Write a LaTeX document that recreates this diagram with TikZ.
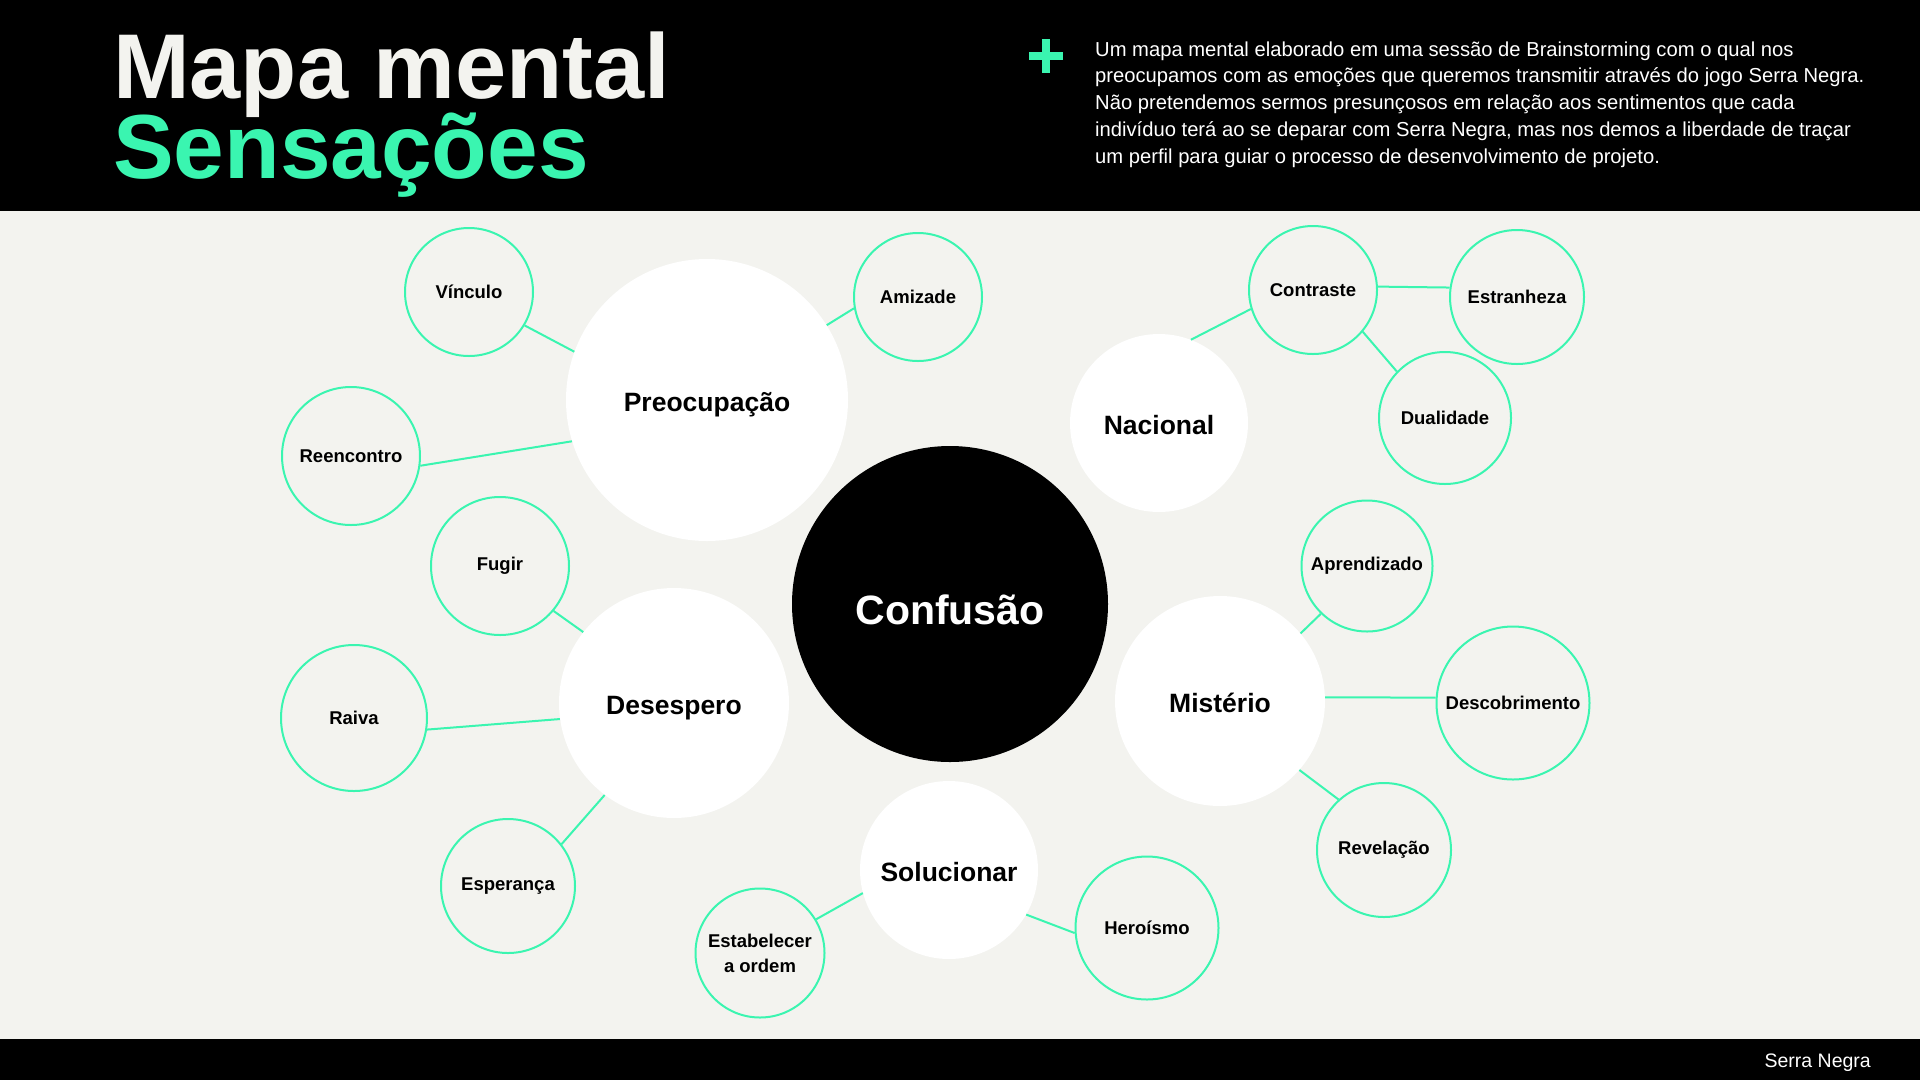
\documentclass[tikz,border=0pt]{standalone}
\usepackage{fontspec}
\setmainfont{Liberation Sans}
\definecolor{mint}{RGB}{58,245,176}
\definecolor{paper}{RGB}{243,243,239}

\begin{document}
\begin{tikzpicture}[x=1pt,y=-1pt,
        main/.style={circle,fill=white,inner sep=0pt,text height=22pt,text depth=0pt,font=\bfseries\fontsize{26.5}{30}\selectfont},
        leaf/.style={circle,draw=mint,line width=2pt,inner sep=0pt,align=center,font=\bfseries\fontsize{18.5}{25}\selectfont},
        link/.style={draw=mint,line width=2pt}]
        \useasboundingbox (0,0) rectangle (1920,1080);
        \fill[paper] (0,0) rectangle (1920,1080);
        \fill[black] (0,0) rectangle (1920,211);
        \fill[black] (0,1039) rectangle (1920,1080);
        \node[anchor=base west,inner sep=0pt,text=paper,font=\bfseries\fontsize{92}{92}\selectfont] (title) at (113,98) {Mapa mental};
        \node[anchor=base west,inner sep=0pt,text=mint,font=\bfseries\fontsize{91}{91}\selectfont] (subtitle) at (113,178) {Sensações};
        \draw[mint,line width=8pt] (1029,56) -- (1063,56) (1046,39) -- (1046,73);
        \node[anchor=base west,inner sep=0pt,align=left,text=white,font=\fontsize{20.2}{26.9}\selectfont] (intro) at (1095,163.6) {Um mapa mental elaborado em uma sessão de Brainstorming com o qual nos\\preocupamos com as emoções que queremos transmitir através do jogo Serra Negra.\\Não pretendemos sermos presunçosos em relação aos sentimentos que cada\\indivíduo terá ao se deparar com Serra Negra, mas nos demos a liberdade de traçar\\um perfil para guiar o processo de desenvolvimento de projeto.};
        \node[anchor=base east,inner sep=0pt,text=white,font=\fontsize{19.5}{22}\selectfont] (brand) at (1871,1067) {Serra Negra};

        \node[main,minimum size=316pt,fill=black,text=white,text height=40pt,font=\bfseries\fontsize{41}{45}\selectfont] (confusao) at (950,604) {Confusão};
        \node[main,minimum size=282pt] (preocupacao) at (707,400) {Preocupação};
        \node[main,minimum size=178pt] (nacional) at (1159,423) {Nacional};
        \node[main,minimum size=230pt] (desespero) at (674,703) {Desespero};
        \node[main,minimum size=210pt] (misterio) at (1220,701) {Mistério};
        \node[main,minimum size=178pt] (solucionar) at (949,870) {Solucionar};

        \node[leaf,minimum size=128pt] (vinculo) at (469,292) {Vínculo};
        \node[leaf,minimum size=138pt] (reencontro) at (351,456) {Reencontro};
        \node[leaf,minimum size=128pt] (amizade) at (918,297) {Amizade};
        \node[leaf,minimum size=138pt] (fugir) at (500,566) {Fugir};
        \node[leaf,minimum size=146pt] (raiva) at (354,718) {Raiva};
        \node[leaf,minimum size=134pt] (esperanca) at (508,886) {Esperança};
        \node[leaf,minimum size=129pt] (ordem) at (760,953) {Estabelecer\\a ordem};
        \node[leaf,minimum size=143pt] (heroismo) at (1147,928) {Heroísmo};
        \node[leaf,minimum size=128pt] (contraste) at (1313,290) {Contraste};
        \node[leaf,minimum size=134pt] (estranheza) at (1517,297) {Estranheza};
        \node[leaf,minimum size=132pt] (dualidade) at (1445,418) {Dualidade};
        \node[leaf,minimum size=131pt] (aprendizado) at (1367,566) {Aprendizado};
        \node[leaf,minimum size=153pt] (descobrimento) at (1513,703) {Descobrimento};
        \node[leaf,minimum size=134pt] (revelacao) at (1384,850) {Revelação};

        \draw[link] (vinculo.-31) -- (preocupacao.160);
        \draw[link] (reencontro.-8) -- (preocupacao.197);
        \draw[link] (amizade.190) -- (preocupacao.32);
        \draw[link] (nacional.69) -- (contraste.197);
        \draw[link] (contraste.3) -- (estranheza.172);
        \draw[link] (contraste.-40) -- (dualidade.136);
        \draw[link] (fugir.-40) -- (desespero.142);
        \draw[link] (raiva.-9) -- (desespero.188);
        \draw[link] (esperanca.38) -- (desespero.233);
        \draw[link] (aprendizado.226) -- (misterio.40);
        \draw[link] (misterio.2) -- (descobrimento.176);
        \draw[link] (misterio.-41) -- (revelacao.132);
        \draw[link] (ordem.31) -- (solucionar.195);
        \draw[link] (solucionar.-30) -- (heroismo.184);
    \end{tikzpicture}
\end{document}
